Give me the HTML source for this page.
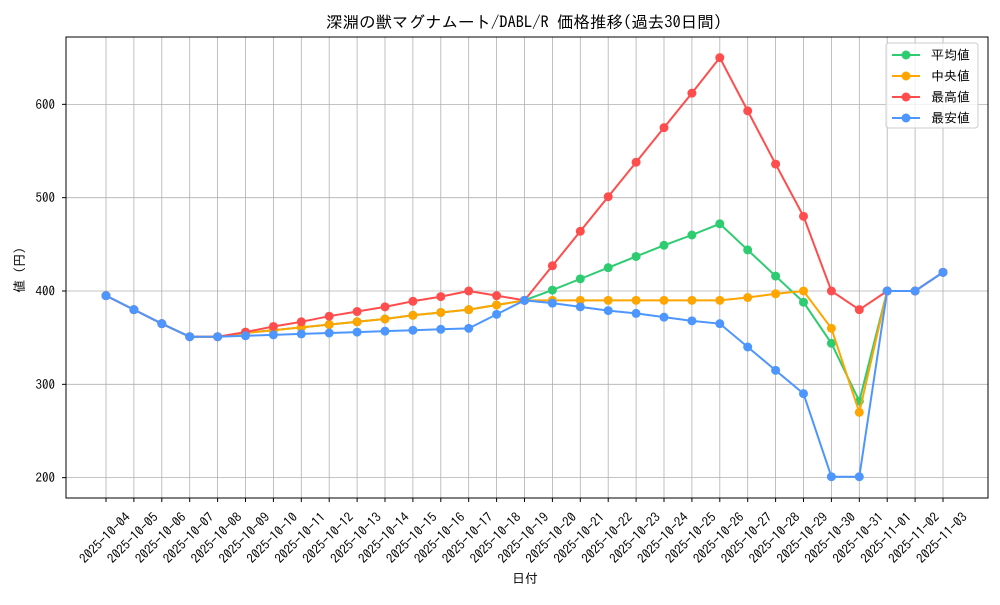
<!DOCTYPE html>
<html><head><meta charset="utf-8"><style>
body{margin:0;background:#fff}
svg{font-family:"IPAGothic","Liberation Sans","Noto Sans CJK JP",sans-serif}
</style></head><body>
<svg id="chart" width="1000" height="600" viewBox="0 0 1000 600">
<rect width="1000" height="600" fill="#fff"/>
<text x="524" y="28" text-anchor="middle" font-size="16.5">深淵の獣マグナムート/DABL/R 価格推移(過去30日間)</text>
<g id="grid"></g><g id="axes"></g><g id="series"></g>
<rect x="66" y="37" width="922" height="461" fill="none" stroke="#000" stroke-width="1"/>
<text x="525" y="583" text-anchor="middle" font-size="13">日付</text>
<text x="24" y="270" text-anchor="middle" font-size="13" transform="rotate(-90 24 270)">値 (円)</text>
<g>
<rect x="886" y="43" width="92" height="85" rx="3" fill="#fff" fill-opacity="0.8" stroke="#ccc"/>
<g id="legend"></g>
</g>
</svg>
<script>
const dates=["2025-10-04","2025-10-05","2025-10-06","2025-10-07","2025-10-08","2025-10-09","2025-10-10","2025-10-11","2025-10-12","2025-10-13","2025-10-14","2025-10-15","2025-10-16","2025-10-17","2025-10-18","2025-10-19","2025-10-20","2025-10-21","2025-10-22","2025-10-23","2025-10-24","2025-10-25","2025-10-26","2025-10-27","2025-10-28","2025-10-29","2025-10-30","2025-10-31","2025-11-01","2025-11-02","2025-11-03"];
const meanVals=[395,380,365,351,351,355,358,361,364,367,370,374,377,380,385,390,401,413,425,437,449,460,472,444,416,388,344,282,400,400,420];
const medianVals=[395,380,365,351,351,355,358,361,364,367,370,374,377,380,385,390,390,390,390,390,390,390,390,393,397,400,360,270,400,400,420];
const maxVals=[395,380,365,351,351,356,362,367,373,378,383,389,394,400,395,390,427,464,501,538,575,612,650,593,536,480,400,380,400,400,420];
const minVals=[395,380,365,351,351,352,353,354,355,356,357,358,359,360,375,390,387,383,379,376,372,368,365,340,315,290,201,201,400,400,420];
const yTicks=[200,300,400,500,600];
const seriesNames=["平均値","中央値","最高値","最安値"];
const seriesColors=["#2ecc71","#ffa500","#ff4d4d","#4d96ff"];
const NS="http://www.w3.org/2000/svg";
function X(i){return 106+i*(943-106)/30;}
function Y(v){return 291-(v-400)*0.9333;}
function mk(tag,attrs,parent){const e=document.createElementNS(NS,tag);for(const k in attrs)e.setAttribute(k,attrs[k]);parent.appendChild(e);return e;}
const grid=document.getElementById('grid'),axes=document.getElementById('axes'),ser=document.getElementById('series'),leg=document.getElementById('legend');
dates.forEach((d,i)=>{
 const l=mk('line',{x1:X(i),x2:X(i),y1:37,y2:498,stroke:'#b0b0b0','stroke-width':0.8},grid);
 
 
 mk('line',{x1:X(i),x2:X(i),y1:498,y2:502,stroke:'#000'},axes);
 const tx=X(i)+2, ty=541;
 const t=mk('text',{x:tx,y:ty,'font-size':13,'text-anchor':'middle',transform:`rotate(-45 ${tx} ${ty})`},axes);
 t.textContent=d;
 
 
});
yTicks.forEach(v=>{
 const l=mk('line',{x1:66,x2:988,y1:Y(v),y2:Y(v),stroke:'#b0b0b0','stroke-width':0.8},grid);
 
 
 mk('line',{x1:62,x2:66,y1:Y(v),y2:Y(v),stroke:'#000'},axes);
 const t=mk('text',{x:55,y:Y(v)+4.5,'font-size':13,'text-anchor':'end'},axes);
 t.textContent=v;
 
 
});
const all=[meanVals,medianVals,maxVals,minVals];
const order=[0,1,2,3];
order.forEach(s=>{
 const g=mk('g',{},ser);
 
 
 const vals=all[s];
 mk('polyline',{points:vals.map((v,i)=>X(i)+','+Y(v)).join(' '),fill:'none',stroke:seriesColors[s],'stroke-width':2},g);
 vals.forEach((v,i)=>{
  const c=mk('circle',{cx:X(i),cy:Y(v),r:4.5,fill:seriesColors[s]},g);
  
  
 });
});
seriesNames.forEach((n,k)=>{
 const y=55+k*21;
 const g=mk('g',{},leg);
 
 
 mk('line',{x1:892,x2:920,y1:y,y2:y,stroke:seriesColors[k],'stroke-width':2},g);
 mk('circle',{cx:906,cy:y,r:4.5,fill:seriesColors[k]},g);
 const t=mk('text',{x:931,y:y+4.5,'font-size':13},g);
 t.textContent=n;
});
</script>
</body></html>
